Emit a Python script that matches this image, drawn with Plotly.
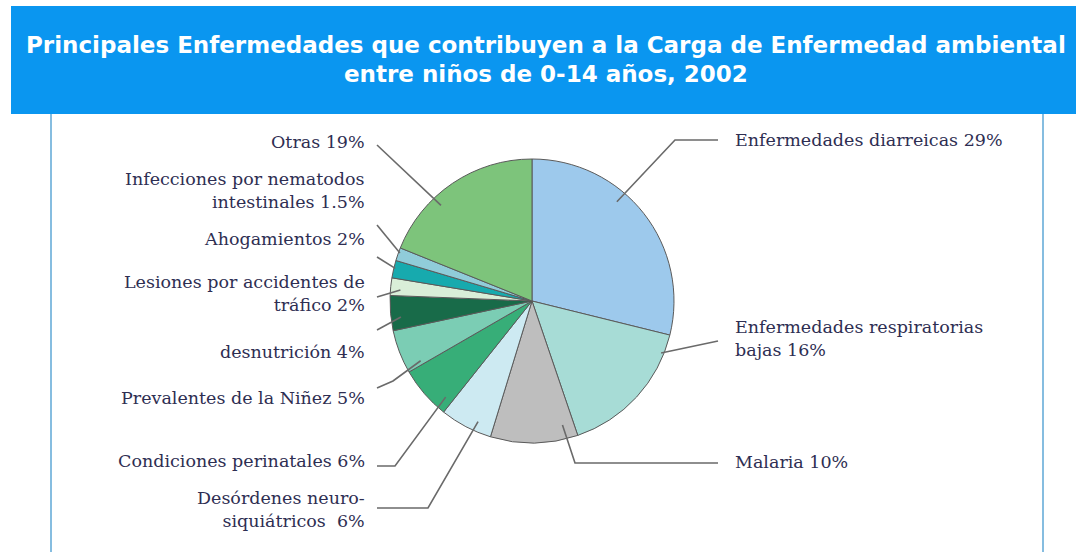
import math
import plotly.graph_objects as go

W, H = 1076, 552

labels = ["Enfermedades diarreicas", "Enfermedades respiratorias bajas", "Malaria",
          "Desórdenes neuro-siquiátricos", "Condiciones perinatales",
          "Prevalentes de la Niñez", "desnutrición", "Lesiones por accidentes de tráfico",
          "Ahogamientos", "Infecciones por nematodos intestinales", "Otras"]
values = [29, 16, 10, 6, 6, 5, 4, 2, 2, 1.5, 19]
label_texts = ["Enfermedades diarreicas 29%", "Enfermedades respiratorias<br>bajas 16%",
               "Malaria 10%", "Desórdenes neuro-<br>siquiátricos  6%",
               "Condiciones perinatales 6%", "Prevalentes de la Niñez 5%",
               "desnutrición 4%", "Lesiones por accidentes de<br>tráfico 2%",
               "Ahogamientos 2%", "Infecciones por nematodos<br>intestinales 1.5%",
               "Otras 19%"]
colors = ["#9DC9EC", "#A7DCD6", "#BEBEBE", "#CDEAF2", "#37AE78", "#7BCDB4",
          "#186B49", "#D9EED8", "#17AAAE", "#90CCD9", "#7DC47B"]

# pie geometry (pixels)
CX, CY, R = 532, 301, 142

def px(x):
    return x / W

def py(y):
    return 1 - y / H

# label layout: (text x, text y, anchor side, line start, elbow or None, anchor frac in slice, anchor radius frac)
layout_spec = [
    (733, 140, "left", (718, 140), (675, 140), 0.39, 0.92),
    (733, 338, "left", (718, 341), None, 0.14, 0.98),
    (733, 462, "left", (718, 463), (575, 463), 0.14, 0.90),
    (367, 509, "right", (377, 508), (428, 508), 0.33, 0.93),
    (367, 461, "right", (377, 466), (395, 466), 0.16, 0.91),
    (367, 398, "right", (377, 388), (393, 381), 0.10, 0.89),
    (367, 352, "right", (377, 330), None, 0.36, 0.93),
    (367, 293, "right", (377, 297), None, 0.36, 0.93),
    (367, 239, "right", (377, 257), None, 0.56, 0.99),
    (367, 190, "right", (377, 225), None, 0.64, 0.99),
    (367, 142, "right", (377, 145), None, 0.36, 0.93),
]

total = sum(values)
cum = 0.0
shapes = []
annotations = []
for i, v in enumerate(values):
    tx, ty, side, start, elbow, frac, rfrac = layout_spec[i]
    ang = (cum + frac * v) / total * 2 * math.pi
    ax = CX + rfrac * R * math.sin(ang)
    ay = CY - rfrac * R * math.cos(ang)
    cum += v
    pts = [start] + ([elbow] if elbow else []) + [(ax, ay)]
    path = "M " + " L ".join(f"{px(x):.5f},{py(y):.5f}" for x, y in pts)
    shapes.append(dict(type="path", path=path, xref="paper", yref="paper",
                       line=dict(color="#6A6A6A", width=1.6), layer="above"))
    annotations.append(dict(x=px(tx), y=py(ty), xref="paper", yref="paper",
                            text=label_texts[i], showarrow=False,
                            xanchor=side, yanchor="middle", align=side,
                            font=dict(family="DejaVu Serif", size=17.5, color="#2E2E52")))

# header & frame
shapes.insert(0, dict(type="rect", xref="paper", yref="paper", x0=px(11), x1=1.0,
                      y0=py(114), y1=py(6), fillcolor="#0A96F0", line=dict(width=0), layer="below"))
for fx in (51, 1043):
    shapes.append(dict(type="line", xref="paper", yref="paper", x0=px(fx), x1=px(fx),
                       y0=0, y1=py(114), line=dict(color="#86BDE0", width=2), layer="below"))

title_lines = ["Principales Enfermedades que contribuyen a la Carga de Enfermedad ambiental",
               "entre niños de 0-14 años, 2002"]
for j, (t, yy) in enumerate(zip(title_lines, (45, 74))):
    annotations.append(dict(x=px(546), y=py(yy), xref="paper", yref="paper", text=f"<b>{t}</b>",
                            showarrow=False, xanchor="center", yanchor="middle",
                            font=dict(family="DejaVu Sans", size=23, color="white")))

fig = go.Figure(go.Pie(
    labels=labels, values=values, sort=False, direction="clockwise", rotation=0,
    marker=dict(colors=colors, line=dict(color="#5A5A5A", width=1)),
    textinfo="none", hoverinfo="label+percent", showlegend=False,
    domain=dict(x=[px(CX - R), px(CX + R)], y=[py(CY + R), py(CY - R)]),
))
fig.update_layout(width=W, height=H, margin=dict(l=0, r=0, t=0, b=0),
                  paper_bgcolor="white", plot_bgcolor="white",
                  shapes=shapes, annotations=annotations, showlegend=False)
fig.write_html("out.html", config={"displayModeBar": False},
               post_script="document.body.style.margin='0';")
